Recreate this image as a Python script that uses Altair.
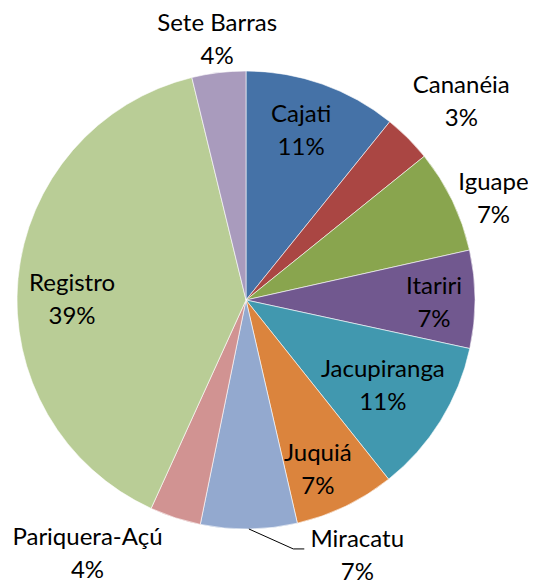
import math
import altair as alt
import pandas as pd

# data
cities = ["Cajati", "Cananéia", "Iguape", "Itariri", "Jacupiranga", "Juquiá",
          "Miracatu", "Pariquera-Açú", "Registro", "Sete Barras"]
shares = [10.8, 3.4, 7.3, 6.9, 10.9, 7.1, 6.8, 3.6, 39.4, 3.8]
colors = ["#4572A7", "#AA4643", "#89A54E", "#71588F", "#4198AF", "#DB843D",
          "#93A9CF", "#D19392", "#B9CD96", "#A99BBD"]

# label placement (style): radius in px, angle offset in degrees from slice middle
label_radius = [177, 292, 267, 188, 162, 185, 280, 300, 174, 261]
label_angle_off = [-1.3, 2.5, 3.7, 1.3, 0.5, 2.9, -22.7, 13.9, -5.7, 0.5]

CX, CY, R = 238, 292, 229
FONT = "Lato"
FS, LH = 24, 33

total = sum(shares)
rows, lab_rows = [], []
cum = 0.0
mids = []
for i, (c, v) in enumerate(zip(cities, shares)):
    mid = (cum + v / 2) / total * 360
    cum += v
    mids.append(mid)
    rows.append({"city": c, "value": v, "idx": i})
    a = math.radians(mid + label_angle_off[i])
    lab_rows.append({
        "city": c,
        "label": f"{c}\n{round(v / total * 100)}%",
        "lx": CX + label_radius[i] * math.sin(a),
        "ly": CY - label_radius[i] * math.cos(a),
    })
df = pd.DataFrame(rows)
lab = pd.DataFrame(lab_rows)
# first line anchored so the two-line block is centred on the label point
lab["ty"] = lab["ly"] - LH / 2

# leader line for Miracatu
mi = cities.index("Miracatu")
am = math.radians(mids[mi])
lx, ly = lab_rows[mi]["lx"], lab_rows[mi]["ly"]
leader = pd.DataFrame([
    {"px": CX + R * math.sin(am), "py": CY - R * math.cos(am), "o": 0},
    {"px": lx - 64, "py": ly - 8, "o": 1},
    {"px": lx - 53, "py": ly - 8, "o": 2},
])

pie = alt.Chart(df).mark_arc(outerRadius=R, stroke="#ffffff", strokeWidth=0.6).encode(
    theta=alt.Theta("value:Q", stack=True),
    order=alt.Order("idx:Q"),
    color=alt.Color("city:N", scale=alt.Scale(domain=cities, range=colors), legend=None),
    x=alt.value(CX),
    y=alt.value(CY),
)

text = alt.Chart(lab).mark_text(
    font=FONT, fontSize=FS, lineHeight=LH, lineBreak="\n",
    align="center", baseline="middle", color="#000000",
).encode(
    x=alt.X("lx:Q", scale=None, axis=None),
    y=alt.Y("ty:Q", scale=None, axis=None),
    text="label:N",
)

line = alt.Chart(leader).mark_line(color="#000000", strokeWidth=1).encode(
    x=alt.X("px:Q", scale=None, axis=None),
    y=alt.Y("py:Q", scale=None, axis=None),
    order="o:Q",
)

chart = alt.layer(pie, line, text).properties(
    width=520, height=575, autosize=alt.AutoSizeParams(type="none"), padding=0,
    background="#ffffff",
).configure_view(stroke=None)

chart.save("out.html", embed_options={"renderer": "svg", "actions": False})
